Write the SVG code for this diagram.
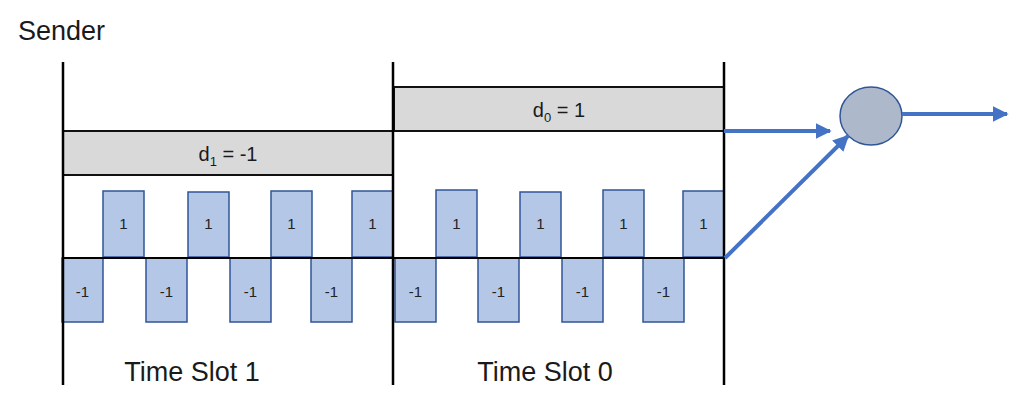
<svg xmlns="http://www.w3.org/2000/svg" width="1024" height="410" viewBox="0 0 1024 410">
<defs>
<style>
.t{font-family:"Liberation Sans",Arial,sans-serif;fill:#1a1a1a}
.chip{fill:#b4c7e7;stroke:#2f5597;stroke-width:1.5}
.ct{font-family:"Liberation Sans",Arial,sans-serif;font-size:15px;fill:#222;text-anchor:middle}
.bar{fill:#d9d9d9;stroke:#111;stroke-width:2}
.vl{stroke:#000;stroke-width:2.5}
.ar{stroke:#4472c4;stroke-width:4;fill:none}
</style>
<marker id="ah" viewBox="0 0 10 10" refX="9" refY="5" markerWidth="4" markerHeight="4" orient="auto" markerUnits="strokeWidth">
<path d="M0,0 L10,5 L0,10 Z" fill="#4472c4"/>
</marker>
</defs>
<rect width="1024" height="410" fill="#fff"/>
<text class="t" x="18" y="40" font-size="27">Sender</text>

<g id="slot1">
<rect class="bar" x="63" y="131" width="330" height="44"/>
<text class="t" x="228" y="161" font-size="20" text-anchor="middle">d<tspan font-size="13" dy="5">1</tspan><tspan dy="-5"> = -1</tspan></text>
<text class="t" x="192" y="381" font-size="27" text-anchor="middle">Time Slot 1</text>
</g>
<g id="slot0">
<rect class="bar" x="394" y="87" width="330" height="44"/>
<text class="t" x="559" y="117" font-size="20" text-anchor="middle">d<tspan font-size="13" dy="5">0</tspan><tspan dy="-5"> = 1</tspan></text>
<text class="t" x="545" y="381" font-size="27" text-anchor="middle">Time Slot 0</text>
</g>

<g id="chips">
<rect class="chip" x="103" y="191" width="41" height="66"/><text class="ct" x="123.5" y="229">1</text>
<rect class="chip" x="188" y="192" width="41" height="65"/><text class="ct" x="208.5" y="229">1</text>
<rect class="chip" x="271" y="191" width="41" height="66"/><text class="ct" x="291.5" y="229">1</text>
<rect class="chip" x="352" y="191" width="41" height="66"/><text class="ct" x="372.5" y="229">1</text>
<rect class="chip" x="436" y="190" width="41" height="67"/><text class="ct" x="456.5" y="229">1</text>
<rect class="chip" x="520" y="192" width="41" height="65"/><text class="ct" x="540.5" y="229">1</text>
<rect class="chip" x="603" y="190" width="41" height="67"/><text class="ct" x="623.5" y="229">1</text>
<rect class="chip" x="683" y="191" width="41" height="66"/><text class="ct" x="703.5" y="229">1</text>

<rect class="chip" x="62" y="258" width="41" height="64"/><text class="ct" x="82.5" y="297">-1</text>
<rect class="chip" x="146" y="258" width="41" height="64"/><text class="ct" x="166.5" y="297">-1</text>
<rect class="chip" x="230" y="258" width="41" height="64"/><text class="ct" x="250.5" y="297">-1</text>
<rect class="chip" x="311" y="258" width="41" height="64"/><text class="ct" x="331.5" y="297">-1</text>
<rect class="chip" x="395" y="258" width="41" height="64"/><text class="ct" x="415.5" y="297">-1</text>
<rect class="chip" x="478" y="258" width="41" height="64"/><text class="ct" x="498.5" y="297">-1</text>
<rect class="chip" x="562" y="258" width="41" height="64"/><text class="ct" x="582.5" y="297">-1</text>
<rect class="chip" x="643" y="258" width="41" height="64"/><text class="ct" x="663.5" y="297">-1</text>
</g>

<g id="axes">
<line class="vl" x1="63" y1="62" x2="63" y2="385"/>
<line class="vl" x1="393" y1="62" x2="393" y2="385"/>
<line class="vl" x1="724" y1="62" x2="724" y2="385"/>
<line x1="63" y1="258" x2="724" y2="258" stroke="#000" stroke-width="2"/>
</g>

<g id="combiner">
<ellipse cx="871" cy="116" rx="31" ry="29" fill="#adb9ca" stroke="#2f5597" stroke-width="1.5"/>
</g>

<g id="connectors">
<line class="ar" x1="724" y1="131" x2="830" y2="131" marker-end="url(#ah)"/>
<line class="ar" x1="725" y1="258" x2="848" y2="136" marker-end="url(#ah)"/>
<line class="ar" x1="902" y1="114" x2="1007" y2="114" marker-end="url(#ah)"/>
</g>
</svg>
